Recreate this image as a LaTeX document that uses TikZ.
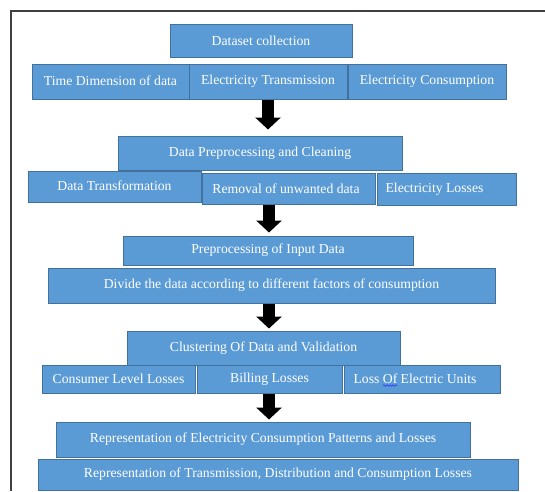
\documentclass[tikz,border=0pt]{standalone}
\usepackage{fontspec}
\setmainfont{Liberation Serif}
\usetikzlibrary{arrows.meta,decorations.pathmorphing}
\definecolor{boxfill}{HTML}{5B9BD5}
\definecolor{boxline}{HTML}{41719C}
\definecolor{framec}{HTML}{404040}
\tikzset{
  box/.style={rectangle, fill=boxfill, draw=boxline, line width=1pt, text=white,
    inner sep=0pt, font=\fontsize{13.7}{15}\selectfont},
  bigarrow/.style={draw=black, line width=12pt,
    -{Triangle[width=25pt,length=12pt]}},
  framestyle/.style={draw=framec, line width=1.6pt},
}
\begin{document}
\begin{tikzpicture}[x=1pt,y=-1pt]
\useasboundingbox (0,0) rectangle (545,491);
\fill[white] (0,0) rectangle (545,491);
% frame
\coordinate (fc) at (11,11);
\coordinate (fr) at (545,11);
\coordinate (fb) at (11,491);
\draw[framestyle] (fr) -- (fc) -- (fb);
% boxes
\node[box, minimum width=182pt, minimum height=33pt] (ds) at (261,40.5) {Dataset collection};
\node[box, minimum width=157pt, minimum height=35pt] (td) at (110.5,81.5) {\raisebox{2pt}{Time Dimension of data}};
\node[box, minimum width=158pt, minimum height=35pt] (et) at (268,81.5) {Electricity Transmission};
\node[box, minimum width=158pt, minimum height=35pt] (ec) at (427,81.5) {Electricity Consumption};
\node[box, minimum width=284pt, minimum height=34pt] (dpc) at (260,153) {Data Preprocessing and Cleaning};
\node[box, minimum width=173pt, minimum height=31pt] (dt) at (114.5,186.5) {\raisebox{1.5pt}{Data Transformation}};
\node[box, minimum width=173pt, minimum height=31pt] (ru) at (288.5,188.5) {Removal of unwanted data\hspace*{5pt}};
\node[box, minimum width=139pt, minimum height=32pt] (el) at (446.5,189) {Electricity Losses\hspace*{24pt}};
\node[box, minimum width=290pt, minimum height=29pt] (pid) at (268,250.5) {Preprocessing of Input Data};
\node[box, minimum width=447pt, minimum height=35pt] (div) at (271.5,285.5) {Divide the data according to different factors of consumption};
\node[box, minimum width=273pt, minimum height=34pt] (cdv) at (263.5,348) {Clustering Of Data and Validation};
\node[box, minimum width=153pt, minimum height=28pt] (cll) at (118.5,379) {Consumer Level Losses};
\node[box, minimum width=145pt, minimum height=28pt] (bl) at (269.5,379) {Billing Losses};
\node[box, minimum width=156pt, minimum height=28pt] (leu) at (422,379) {Loss Of Electric Units\hspace*{14pt}};
\node[box, minimum width=414pt, minimum height=35pt] (r1) at (263,439.5) {Representation of Electricity Consumption Patterns and Losses};
\node[box, minimum width=480pt, minimum height=31pt] (r2) at (278,474.5) {Representation of Transmission, Distribution and Consumption Losses};
% arrows
\coordinate (ax1) at (268,0);
\coordinate (ax2) at (269,0);
\draw[bigarrow, shorten >=6pt] (et.south) -- (dpc.north -| ax1);
\draw[bigarrow, shorten >=3pt] (ru.south -| ax2) -- (pid.north -| ax2);
\draw[bigarrow, shorten >=2pt] (div.south -| ax2) -- (cdv.north -| ax2);
\draw[bigarrow, shorten >=2pt] (bl.south -| ax2) -- (r1.north -| ax2);
% spell-check squiggle under "Of"
\coordinate (sq1) at (383,385.5);
\coordinate (sq2) at (397,385.5);
\draw[blue!80, line width=0.6pt, decorate, decoration={snake, amplitude=0.8pt, segment length=3pt}] (sq1) -- (sq2);
\end{tikzpicture}
\end{document}
